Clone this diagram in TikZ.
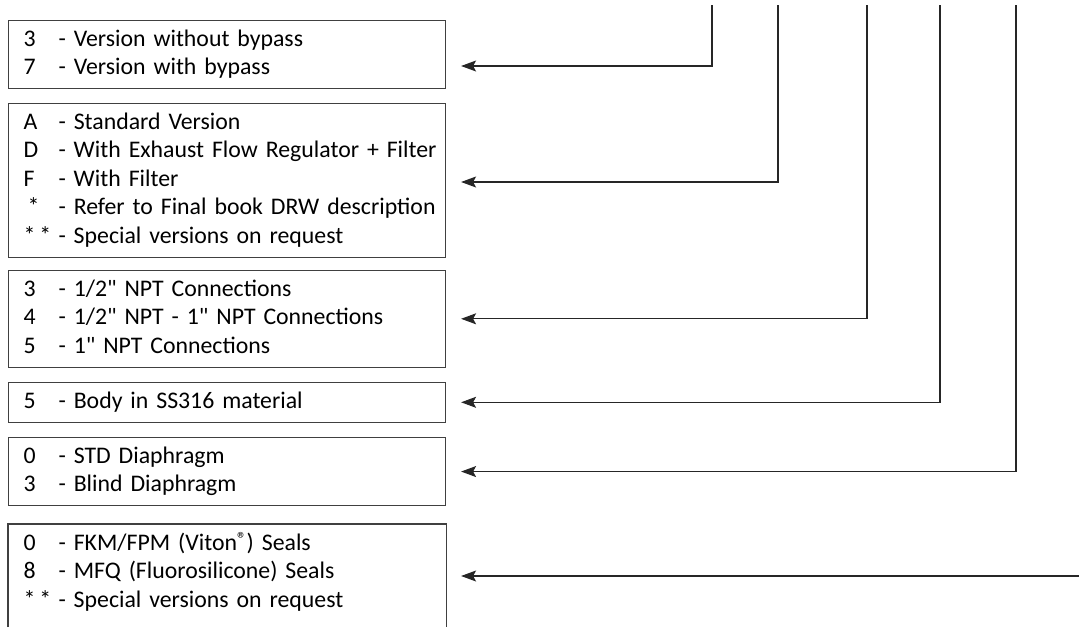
\documentclass[tikz,border=0pt]{standalone}
\usepackage{fontspec}
\setmainfont{Carlito}
\usetikzlibrary{arrows.meta,calc}
\tikzset{
  codebox/.style={draw=black!75,line width=1.1pt,anchor=north west,inner xsep=0pt,inner ysep=5.5pt,
    text width=437pt,align=left,font=\fontsize{23.8}{28.5}\selectfont},
  codearrow/.style={draw=black!85,line width=1.1pt,-{Stealth[length=15pt,width=11pt,inset=3pt]}},
}
\newcommand{\code}[2]{\strut\hspace*{15pt}\makebox[35pt][l]{#1}#2}
\newcommand{\etoile}{*}
\newcommand{\pouce}{\textquotedbl}
\newcommand{\marque}{\raisebox{0.4ex}{\fontsize{19}{19}\selectfont ®}}

\begin{document}
\begin{tikzpicture}[x=1pt,y=-1pt]
\useasboundingbox (0,0) rectangle (1079,627);
% boites de codes
\node[codebox] (b1) at (8,20) {\code{3}{- Version without bypass}\\
  \code{7}{- Version with bypass}};
\node[codebox] (b2) at (8,103) {\code{A}{- Standard Version}\\
  \code{D}{- With Exhaust Flow Regulator + Filter}\\
  \code{F}{- With Filter}\\
  \code{\,\etoile}{- Refer to Final book DRW description}\\
  \code{\etoile\,\etoile}{- Special versions on request}};
\node[codebox] (b3) at (8,270) {\code{3}{- 1/2\pouce{} NPT Connections}\\
  \code{4}{- 1/2\pouce{} NPT - 1\pouce{} NPT Connections}\\
  \code{5}{- 1\pouce{} NPT Connections}};
\node[codebox] (b4) at (8,382) {\code{5}{- Body in SS316 material}};
\node[codebox] (b5) at (8,437) {\code{0}{- STD Diaphragm}\\
  \code{3}{- Blind Diaphragm}};
\node[codebox,draw=none] (b6) at (8,524) {\code{0}{- FKM/FPM (Viton\marque) Seals}\\
  \code{8}{- MFQ (Fluorosilicone) Seals}\\
  \code{\etoile\,\etoile}{- Special versions on request}};
\draw[black!75,line width=1.1pt] (b6.west |- 0,627) -- (b6.north west) -- (b6.north east) -- (b6.east |- 0,627);
% departs des fleches
\coordinate (t1) at (712,5);
\coordinate (t2) at (778,5);
\coordinate (t3) at (867,5);
\coordinate (t4) at (940,5);
\coordinate (t5) at (1016,5);
\coordinate (t6) at (1079,576);
\draw[codearrow] (t1) |- ([shift={(15,46)}]b1.north east);
\draw[codearrow] (t2) |- ([shift={(15,79)}]b2.north east);
\draw[codearrow] (t3) |- ([xshift=15pt]b3.east);
\draw[codearrow] (t4) |- ([xshift=15pt]b4.east);
\draw[codearrow] (t5) |- ([xshift=15pt]b5.east);
\draw[codearrow] (t6) -- ([shift={(15,52)}]b6.north east);
\end{tikzpicture}
\end{document}
